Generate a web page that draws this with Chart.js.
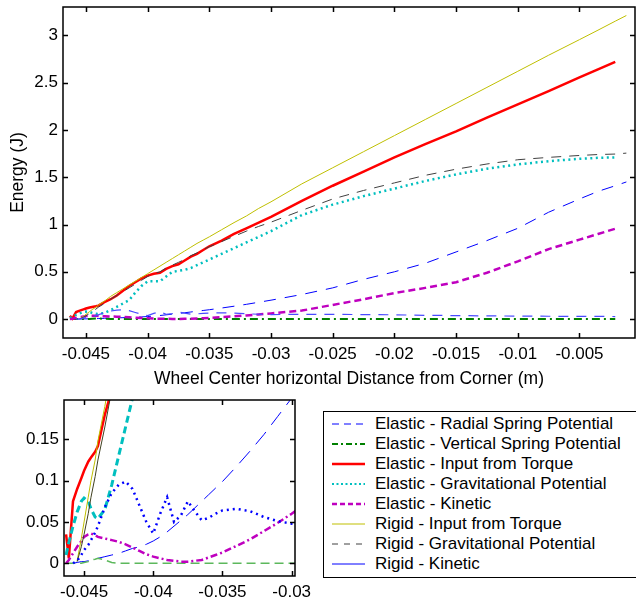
<!DOCTYPE html>
<html>
<head>
<meta charset="utf-8">
<script src="https://cdn.jsdelivr.net/npm/chart.js@4/dist/chart.umd.min.js"></script>
<style>
  body { margin: 0; background: #fff; width: 636px; height: 603px; overflow: hidden; position: relative;
         font-family: "Liberation Sans", Arial, sans-serif; }
  #mainChart { position: absolute; left: 0; top: 0; }
  #zoomChart { position: absolute; left: 0; top: 392px; }
  #legend { position: absolute; left: 323px; top: 411px; width: 320px; height: 167px;
            border: 1px solid #000; box-sizing: border-box; }
  .row { position: absolute; left: 0; height: 20px; line-height: 20px; font-size: 17px; color: #000; white-space: nowrap; }
  .row svg { position: absolute; left: 8px; top: 0; }
  .row span { position: absolute; left: 51px; top: 0; }
</style>
</head>
<body>
<canvas id="mainChart" width="636" height="390"></canvas>
<canvas id="zoomChart" width="320" height="211"></canvas>
<div id="legend"></div>
<script>
// horizontal wheel position (m)
const xPos = [-0.0463, -0.0461, -0.0458, -0.0455, -0.0452, -0.045, -0.0447, -0.0445, -0.0442, -0.044,
  -0.0435, -0.043, -0.0425, -0.042, -0.0415, -0.041, -0.0405, -0.040, -0.0395, -0.039,
  -0.0385, -0.038, -0.0375, -0.037, -0.0365, -0.036, -0.0355, -0.035, -0.034, -0.033,
  -0.032, -0.031, -0.030, -0.0275, -0.025, -0.0225, -0.020, -0.0175, -0.015, -0.0125,
  -0.010, -0.0075, -0.005, -0.0035, -0.0021, -0.0012];

// energies (J)
const radialElastic = [null, null, 0, 0.001, 0.002, 0.002, 0.003, 0.004, 0.005, 0.006,
  0.008, 0.01, 0.012, 0.015, 0.018, 0.02, 0.023, 0.027, 0.032, 0.038,
  0.045, 0.052, 0.059, 0.067, 0.075, 0.083, 0.091, 0.099, 0.117, 0.136,
  0.156, 0.178, 0.20, 0.26, 0.33, 0.42, 0.50, 0.59, 0.71, 0.83,
  0.96, 1.13, 1.27, 1.35, 1.41, 1.45];
const verticalElastic = [0, 0, 0, 0, 0, 0.001, 0.002, 0.004, 0.005, 0.006,
  0.004, 0.001, 0, 0, 0, 0, 0, 0, 0, 0,
  0, 0, 0, 0, 0, 0, 0, 0, 0, 0,
  0, 0, 0, 0, 0, 0, 0, 0, 0, 0,
  0, 0, 0, 0, 0, null];
const torqueElastic = [0.035, 0.006, 0.075, 0.09, 0.103, 0.112, 0.123, 0.128, 0.135, 0.142,
  0.18, 0.21, 0.25, 0.30, 0.35, 0.39, 0.43, 0.46, 0.48, 0.49,
  0.53, 0.56, 0.58, 0.62, 0.66, 0.69, 0.73, 0.77, 0.83, 0.90,
  0.96, 1.02, 1.08, 1.25, 1.41, 1.56, 1.71, 1.85, 1.985, 2.13,
  2.27, 2.41, 2.555, 2.64, 2.72, null];
const gravElastic = [0.01, 0.025, 0.045, 0.062, 0.075, 0.079, 0.075, 0.066, 0.056, 0.054,
  0.065, 0.095, 0.13, 0.165, 0.20, 0.28, 0.35, 0.40, 0.40, 0.40,
  0.45, 0.50, 0.51, 0.52, 0.54, 0.57, 0.60, 0.63, 0.69, 0.75,
  0.81, 0.87, 0.93, 1.10, 1.21, 1.30, 1.38, 1.46, 1.53, 1.59,
  1.635, 1.67, 1.695, 1.705, 1.71, null];
const kineticElastic = [0, 0.004, 0.012, 0.02, 0.027, 0.032, 0.035, 0.036, 0.034, 0.032,
  0.03, 0.028, 0.026, 0.023, 0.019, 0.015, 0.011, 0.008, 0.006, 0.004,
  0.003, 0.002, 0.002, 0.003, 0.004, 0.007, 0.01, 0.013, 0.021, 0.029,
  0.039, 0.049, 0.06, 0.09, 0.15, 0.21, 0.275, 0.33, 0.39, 0.49,
  0.61, 0.74, 0.84, 0.90, 0.955, null];
const torqueRigid = [null, null, null, 0.003, 0.03, 0.05, 0.08, 0.10, 0.125, 0.148,
  0.19, 0.24, 0.28, 0.32, 0.36, 0.40, 0.44, 0.48, 0.52, 0.56,
  0.60, 0.64, 0.68, 0.72, 0.76, 0.80, 0.835, 0.87, 0.945, 1.02,
  1.09, 1.17, 1.24, 1.43, 1.60, 1.77, 1.94, 2.11, 2.28, 2.45,
  2.62, 2.79, 2.955, 3.055, 3.15, 3.21];
const gravRigid = [null, null, null, 0.002, 0.02, 0.035, 0.06, 0.08, 0.105, 0.125,
  0.165, 0.21, 0.25, 0.29, 0.33, 0.37, 0.41, 0.45, 0.48, 0.50,
  0.54, 0.57, 0.60, 0.63, 0.67, 0.70, 0.735, 0.765, 0.82, 0.875,
  0.93, 0.98, 1.025, 1.15, 1.27, 1.36, 1.44, 1.52, 1.585, 1.64,
  1.685, 1.71, 1.73, 1.74, 1.745, 1.755];
const kineticRigid = [null, null, 0, 0.003, 0.01, 0.016, 0.022, 0.028, 0.037, 0.045,
  0.068, 0.085, 0.095, 0.099, 0.09, 0.07, 0.05, 0.036, 0.06, 0.08,
  0.05, 0.058, 0.075, 0.063, 0.052, 0.055, 0.06, 0.064, 0.066, 0.063,
  0.056, 0.051, 0.048, 0.05, 0.05, 0.048, 0.045, 0.04, 0.037, 0.034,
  0.032, 0.03, 0.029, 0.028, 0.027, null];

const seriesNames = ['Elastic - Radial Spring Potential', 'Elastic - Vertical Spring Potential',
  'Elastic - Input from Torque', 'Elastic - Gravitational Potential', 'Elastic - Kinetic',
  'Rigid - Input from Torque', 'Rigid - Gravitational Potential', 'Rigid - Kinetic'];
const seriesValues = [radialElastic, verticalElastic, torqueElastic, gravElastic,
  kineticElastic, torqueRigid, gravRigid, kineticRigid];

const mainXTicks = [-0.045, -0.04, -0.035, -0.03, -0.025, -0.02, -0.015, -0.01, -0.005];
const mainYTicks = [0, 0.5, 1, 1.5, 2, 2.5, 3];
const zoomXTicks = [-0.045, -0.04, -0.035, -0.03];
const zoomYTicks = [0, 0.05, 0.1, 0.15];

// line looks (main plot / legend)
const mainStyles = [
  { color: '#0000ff', width: 1, dash: [12, 9] },
  { color: '#008000', width: 2, dash: [8, 4, 2, 4] },
  { color: '#ff0000', width: 2.5, dash: [] },
  { color: '#00bfbf', width: 2.5, dash: [2, 3.5] },
  { color: '#bf00bf', width: 2.5, dash: [7, 4] },
  { color: '#bfbf00', width: 1, dash: [] },
  { color: '#404040', width: 1, dash: [10, 8] },
  { color: '#4a4aff', width: 1.2, dash: [10, 8] }
];
const legendStyles = [
  { color: '#0000ff', width: 1, dash: [7, 5] },
  { color: '#008000', width: 2, dash: [6, 3, 2, 3] },
  { color: '#ff0000', width: 2.5, dash: [] },
  { color: '#00bfbf', width: 2, dash: [2, 2.5] },
  { color: '#bf00bf', width: 2.5, dash: [5, 3] },
  { color: '#bfbf00', width: 1, dash: [] },
  { color: '#404040', width: 1, dash: [6, 6] },
  { color: '#0000ff', width: 1, dash: [] }
];
// the zoomed inset uses its own line looks
const zoomStyles = [
  { color: '#0000ff', width: 1, dash: [16, 9] },
  { color: '#5cb85c', width: 1.5, dash: [9, 5] },
  { color: '#ff0000', width: 2.5, dash: [] },
  { color: '#00bfbf', width: 3, dash: [7, 4] },
  { color: '#bf00bf', width: 2.5, dash: [7, 3, 2, 3] },
  { color: '#bfbf00', width: 1, dash: [] },
  { color: '#404020', width: 1, dash: [] },
  { color: '#0000ff', width: 2.5, dash: [2, 4] }
];

Chart.defaults.font.family = '"Liberation Sans", Arial, sans-serif';
Chart.defaults.font.size = 17;
Chart.defaults.color = '#000';

function makeSets(styles) {
  return seriesValues.map((vals, i) => ({
    label: seriesNames[i],
    data: xPos.map((x, k) => ({ x: x, y: vals[k] })),
    borderColor: styles[i].color,
    borderWidth: styles[i].width,
    borderDash: styles[i].dash,
    pointRadius: 0,
    tension: 0,
    fill: false,
    order: seriesValues.length - i
  }));
}

// box round the axes with inward ticks on all four sides (MATLAB look)
const axisFrame = {
  id: 'axisFrame',
  afterDatasetsDraw(chart) {
    const { ctx, chartArea: a, scales: { x, y } } = chart;
    const len = 5;
    ctx.save();
    ctx.strokeStyle = '#000';
    ctx.lineWidth = 1.5;
    ctx.beginPath();
    ctx.rect(a.left, a.top, a.right - a.left, a.bottom - a.top);
    x.ticks.forEach(t => {
      const p = Math.round(x.getPixelForValue(t.value)) + 0.5;
      ctx.moveTo(p, a.bottom); ctx.lineTo(p, a.bottom - len);
      ctx.moveTo(p, a.top); ctx.lineTo(p, a.top + len);
    });
    y.ticks.forEach(t => {
      const p = Math.round(y.getPixelForValue(t.value)) + 0.5;
      ctx.moveTo(a.left, p); ctx.lineTo(a.left + len, p);
      ctx.moveTo(a.right, p); ctx.lineTo(a.right - len, p);
    });
    ctx.stroke();
    ctx.restore();
  }
};

function axisOpts(min, max, ticks, size, title) {
  return {
    type: 'linear', min: min, max: max,
    grid: { display: false, drawTicks: false },
    border: { display: false },
    ticks: { padding: 5, autoSkip: false, maxRotation: 0, callback: v => String(v) },
    afterBuildTicks: s => { s.ticks = ticks.map(v => ({ value: v })); },
    afterFit: s => {
      if (s.isHorizontal()) { s.height = size; s.paddingLeft = 0; s.paddingRight = 0; }
      else { s.width = size; s.paddingTop = 0; s.paddingBottom = 0; }
    },
    title: title
  };
}

const mainX = axisOpts(-0.04686, -0.0005, mainXTicks, 52,
  { display: true, text: 'Wheel Center horizontal Distance from Corner (m)',
    font: { size: 17.5 }, padding: { top: 0, bottom: 0 } });
mainX.ticks.padding = 6;
const mainY = axisOpts(-0.2, 3.3, mainYTicks, 63,
  { display: true, text: 'Energy (J)', font: { size: 17.5 }, padding: { top: 8, bottom: 0 } });

new Chart(document.getElementById('mainChart'), {
  type: 'line',
  data: { datasets: makeSets(mainStyles) },
  options: {
    responsive: false,
    animation: false,
    layout: { padding: { top: 7, right: 1, left: 0, bottom: 0 } },
    plugins: { legend: { display: false }, tooltip: { enabled: false } },
    scales: { x: mainX, y: mainY }
  },
  plugins: [axisFrame]
});

const zoomX = axisOpts(-0.04645, -0.02976, zoomXTicks, 27, { display: false });
zoomX.ticks.padding = 6;
const zoomY = axisOpts(-0.0154, 0.1977, zoomYTicks, 64, { display: false });

new Chart(document.getElementById('zoomChart'), {
  type: 'line',
  data: { datasets: makeSets(zoomStyles) },
  options: {
    responsive: false,
    animation: false,
    layout: { padding: { top: 8, right: 25, left: 0, bottom: 0 } },
    plugins: { legend: { display: false }, tooltip: { enabled: false } },
    scales: { x: zoomX, y: zoomY }
  },
  plugins: [axisFrame]
});

// legend box
const legendBox = document.getElementById('legend');
seriesNames.forEach((name, i) => {
  const st = legendStyles[i];
  const row = document.createElement('div');
  row.className = 'row';
  row.style.top = (2 + 20 * i) + 'px';
  row.innerHTML = '<svg width="34" height="20"><line x1="0" y1="10" x2="33" y2="10" stroke="' + st.color +
    '" stroke-width="' + st.width + '" stroke-dasharray="' + (st.dash.length ? st.dash.join(' ') : 'none') +
    '"/></svg><span>' + name + '</span>';
  legendBox.appendChild(row);
});
</script>
</body>
</html>
